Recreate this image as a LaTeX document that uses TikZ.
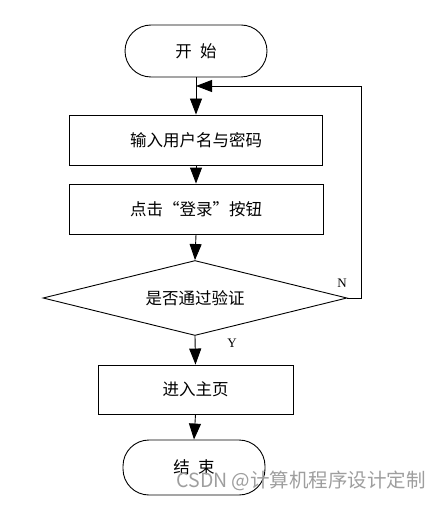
\documentclass[tikz,border=0pt]{standalone}
\usepackage{fontspec}
\setmainfont{Liberation Serif}
\newfontfamily\cjk{Noto Sans CJK SC}
\usetikzlibrary{arrows.meta,shapes.geometric}
\tikzset{
  every node/.style={font=\cjk\fontsize{16.5pt}{18pt}\selectfont},
  boxnode/.style={draw, line width=0.9pt, inner sep=0pt},
  termnode/.style={boxnode, rounded corners=26pt},
  decnode/.style={draw, line width=0.9pt, diamond, inner sep=0pt, aspect=4},
  arr/.style={line width=0.9pt, -{Triangle[length=16pt,width=12pt]}},
  lbl/.style={font=\rmfamily\fontsize{13pt}{15pt}\selectfont},
  wm/.style={font=\cjk\fontsize{19.5pt}{21pt}\selectfont, text=black!38}
}
\begin{document}
\begin{tikzpicture}[x=1pt,y=-1pt]
\useasboundingbox (0,0) rectangle (440,505);
\node[termnode, minimum width=142pt, minimum height=52pt] (start) at (196,51) {开\hspace{0.5em}始};
\node[boxnode, minimum width=253pt, minimum height=50pt] (r1) at (196,140) {输入用户名与密码};
\node[boxnode, minimum width=254pt, minimum height=50pt] (r2) at (196,209) {点击“登录”按钮};
\node[decnode, minimum width=304pt, minimum height=75pt] (dec) at (195,298) {是否通过验证};
\node[boxnode, minimum width=195pt, minimum height=49pt] (r3) at (195.5,389.5) {进入主页};
\node[termnode, minimum width=142pt, minimum height=55pt] (end) at (194,467.5) {结\hspace{0.5em}束};
\coordinate (j) at (196,86);
\draw[arr] (start.south) -- (r1.north);
\draw[arr] (r1.south) -- (r2.north);
\draw[arr] (r2.south) -- (dec.north);
\draw[arr] (dec.south) -- (r3.north);
\draw[arr] (r3.south) -- (end.north);
\draw[arr] (dec.east) -- ++(14,0) |- (j);
\node[lbl] (nl) at (342,283) {N};
\node[lbl] (yl) at (232,343) {Y};
\node[wm, anchor=west] (wmk) at (173,481) {CSDN @计算机程序设计定制};
\end{tikzpicture}
\end{document}
